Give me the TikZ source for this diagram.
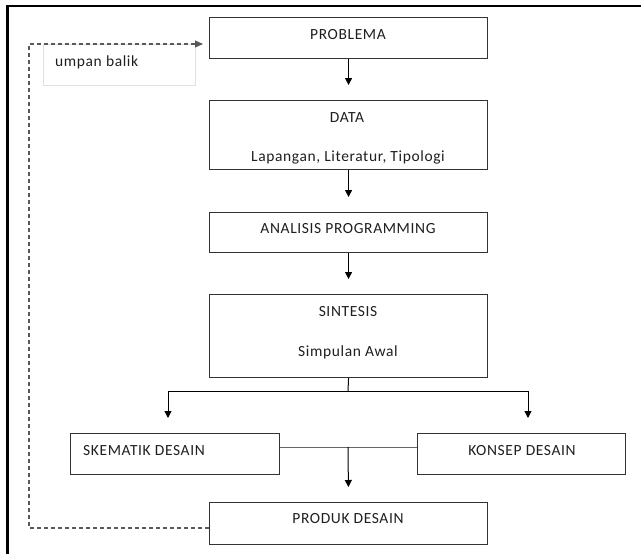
\documentclass[tikz,border=0pt]{standalone}
\usepackage{fontspec}
\setmainfont[LetterSpace=4]{Carlito}
\usetikzlibrary{arrows.meta}
\begin{document}
\begin{tikzpicture}[x=1pt,y=-1pt,
  box/.style={draw=black!80, line width=1.1pt, inner sep=0pt, anchor=north west, minimum width=278pt},
  txt/.style={inner sep=0pt, text=black!88, font=\fontsize{15.5pt}{18pt}\selectfont},
  arr/.style={draw=black, line width=1pt, -{Triangle[width=7pt,length=7pt]}, shorten >=15pt},
  ln/.style={draw=black, line width=1pt},
  fb/.style={draw=black!65, line width=1.1pt, dash pattern=on 4pt off 3pt}]
\useasboundingbox (0,0) rectangle (641,554);
% outer frame (top and left)
\draw[line width=2.5pt] (7.5,554) -- (7.5,6) -- (641,6);
% feedback label box
\node[draw=black!12, line width=1pt, inner sep=0pt, anchor=north west, minimum width=152pt, minimum height=41pt] (ub) at (43,44) {};
\node[txt, anchor=west] (tub) at (55,62) {umpan balik};
% main boxes
\node[box, minimum height=41pt] (prob) at (209,17) {};
\node[box, minimum height=69pt] (data) at (209,100) {};
\node[box, minimum height=40pt] (anal) at (209,212) {};
\node[box, minimum height=83pt] (sint) at (209,294) {};
\node[box, minimum width=209pt, minimum height=41pt] (skem) at (70,433) {};
\node[box, minimum width=208pt, minimum height=41pt] (kons) at (417,433) {};
\node[box, minimum height=42pt] (prod) at (209,502) {};
% texts
\node[txt] (tprob) at (348,35) {PROBLEMA};
\node[txt] (tdata) at (347,118) {DATA};
\node[txt] (tdata2) at (348,157) {Lapangan, Literatur, Tipologi};
\node[txt] (tanal) at (348,229) {ANALISIS PROGRAMMING};
\node[txt] (tsint) at (348,312) {SINTESIS};
\node[txt] (tsint2) at (348,352) {Simpulan Awal};
\node[txt, anchor=west] (tskem) at (83,451) {SKEMATIK DESAIN};
\node[txt] (tkons) at (522,451) {KONSEP DESAIN};
\node[txt] (tprod) at (348,519) {PRODUK DESAIN};
% vertical flow
\draw[arr] (prob.south) -- (data.north);
\draw[arr] (data.south) -- (anal.north);
\draw[arr] (anal.south) -- (sint.north);
% branch
\coordinate (br) at (348,391);
\coordinate (bl) at (168,391);
\coordinate (brr) at (528,391);
\draw[ln] (sint.south) -- (br);
\draw[ln] (bl) -- (brr);
\draw[arr] (bl) -- (bl |- skem.north);
\draw[arr] (brr) -- (brr |- kons.north);
% join of skematik and konsep
\coordinate (mid) at (348,447);
\draw[draw=black!60, line width=1pt] (skem.east |- mid) -- (kons.west |- mid);
\draw[arr] (mid) -- (prod.north);
% feedback dashed loop
\coordinate (fb1) at (209,528);
\coordinate (fb2) at (29,528);
\coordinate (fb3) at (29,44);
\coordinate (fb4) at (203,44);
\draw[fb, -{Triangle[width=7pt,length=8pt]}, shorten >=0pt] (fb1) -- (fb2) -- (fb3) -- (fb4);
\end{tikzpicture}
\end{document}
